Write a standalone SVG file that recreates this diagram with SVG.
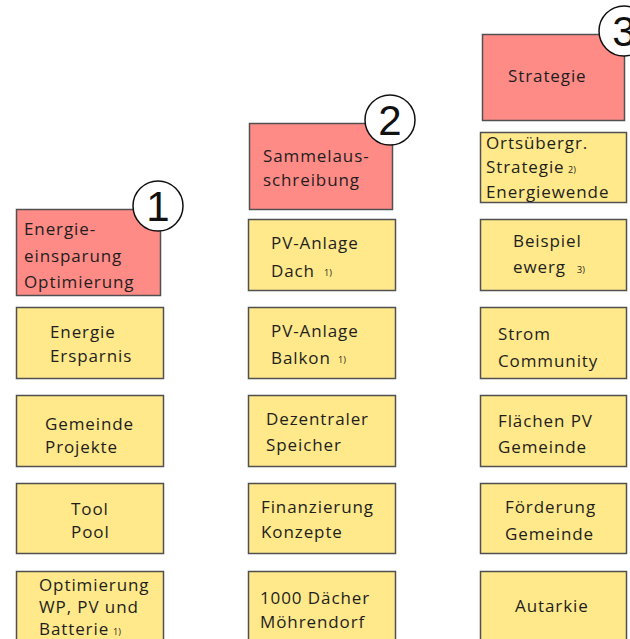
<svg xmlns="http://www.w3.org/2000/svg" width="630" height="639" viewBox="0 0 630 639">
<style>
.r{fill:#FF8B87;stroke:#505050;stroke-width:1.5}
.y{fill:#FFE98A;stroke:#505050;stroke-width:1.5}
.t{font-family:"Open Sans","DejaVu Sans",sans-serif;font-size:17px;letter-spacing:0.9px;fill:#1e1e1e}
.f{font-family:"Open Sans","DejaVu Sans",sans-serif;font-size:9px;fill:#1e1e1e}
.c{fill:#fff;stroke:#111;stroke-width:1.5}
.n{font-family:"Liberation Sans",Arial,sans-serif;font-size:42px;fill:#111;text-anchor:middle}
</style>
<rect width="630" height="639" fill="#fff"/>
<g id="col1">
<g id="n1-head"><rect class="r" x="16.5" y="209.5" width="144" height="86"/>
<text class="t" x="24" y="235">Energie-</text><text class="t" x="24" y="262">einsparung</text><text class="t" x="24" y="288">Optimierung</text></g>
<g id="badge1"><circle class="c" cx="158" cy="206" r="25"/><text class="n" x="158" y="221">1</text></g>
<g id="n1-a"><rect class="y" x="16.5" y="307.5" width="147" height="71"/>
<text class="t" x="50" y="338">Energie</text><text class="t" x="50" y="362">Ersparnis</text></g>
<g id="n1-b"><rect class="y" x="16.5" y="395.5" width="147" height="71"/>
<text class="t" x="45" y="430">Gemeinde</text><text class="t" x="45" y="453">Projekte</text></g>
<g id="n1-c"><rect class="y" x="16.5" y="483.5" width="147" height="70"/>
<text class="t" x="71" y="515">Tool</text><text class="t" x="71" y="538">Pool</text></g>
<g id="n1-d"><rect class="y" x="16.5" y="571.5" width="147" height="80"/>
<text class="t" x="39" y="591">Optimierung</text><text class="t" x="39" y="613">WP, PV und</text><text class="t" x="39" y="635">Batterie</text><text class="f" x="113" y="635">1)</text></g>
</g>
<g id="col2">
<g id="n2-head"><rect class="r" x="249.5" y="123.5" width="143" height="86"/>
<text class="t" x="263" y="162">Sammelaus-</text><text class="t" x="263" y="186">schreibung</text></g>
<g id="badge2"><circle class="c" cx="390" cy="120" r="25"/><text class="n" x="390" y="135">2</text></g>
<g id="n2-a"><rect class="y" x="248.5" y="219.5" width="147" height="71"/>
<text class="t" x="271" y="249">PV-Anlage</text><text class="t" x="271" y="277">Dach</text><text class="f" x="324" y="276">1)</text></g>
<g id="n2-b"><rect class="y" x="248.5" y="307.5" width="147" height="71"/>
<text class="t" x="271" y="337">PV-Anlage</text><text class="t" x="271" y="364">Balkon</text><text class="f" x="338" y="363">1)</text></g>
<g id="n2-c"><rect class="y" x="248.5" y="395.5" width="147" height="71"/>
<text class="t" x="266" y="425">Dezentraler</text><text class="t" x="266" y="451">Speicher</text></g>
<g id="n2-d"><rect class="y" x="248.5" y="483.5" width="147" height="70"/>
<text class="t" x="261" y="513">Finanzierung</text><text class="t" x="261" y="538">Konzepte</text></g>
<g id="n2-e"><rect class="y" x="248.5" y="571.5" width="147" height="80"/>
<text class="t" x="260" y="604">1000 Dächer</text><text class="t" x="260" y="628">Möhrendorf</text></g>
</g>
<g id="col3">
<g id="n3-head"><rect class="r" x="482.5" y="34.5" width="142" height="86"/>
<text class="t" x="508" y="82">Strategie</text></g>
<g id="badge3"><circle class="c" cx="624" cy="31" r="25"/><text class="n" x="624" y="46">3</text></g>
<g id="n3-a"><rect class="y" x="480.5" y="132.5" width="146" height="70"/>
<text class="t" x="486" y="149">Ortsübergr.</text><text class="t" x="486" y="173">Strategie</text><text class="f" x="568" y="173">2)</text><text class="t" x="486" y="198">Energiewende</text></g>
<g id="n3-b"><rect class="y" x="480.5" y="219.5" width="146" height="71"/>
<text class="t" x="513" y="247">Beispiel</text><text class="t" x="513" y="273">ewerg</text><text class="f" x="577" y="273">3)</text></g>
<g id="n3-c"><rect class="y" x="480.5" y="307.5" width="146" height="71"/>
<text class="t" x="498" y="340">Strom</text><text class="t" x="498" y="367">Community</text></g>
<g id="n3-d"><rect class="y" x="480.5" y="395.5" width="146" height="71"/>
<text class="t" x="498" y="427">Flächen PV</text><text class="t" x="498" y="453">Gemeinde</text></g>
<g id="n3-e"><rect class="y" x="480.5" y="483.5" width="146" height="70"/>
<text class="t" x="505" y="513">Förderung</text><text class="t" x="505" y="540">Gemeinde</text></g>
<g id="n3-f"><rect class="y" x="480.5" y="571.5" width="146" height="80"/>
<text class="t" x="515" y="612">Autarkie</text></g>
</g>
<g id="connectors"/>
</svg>
